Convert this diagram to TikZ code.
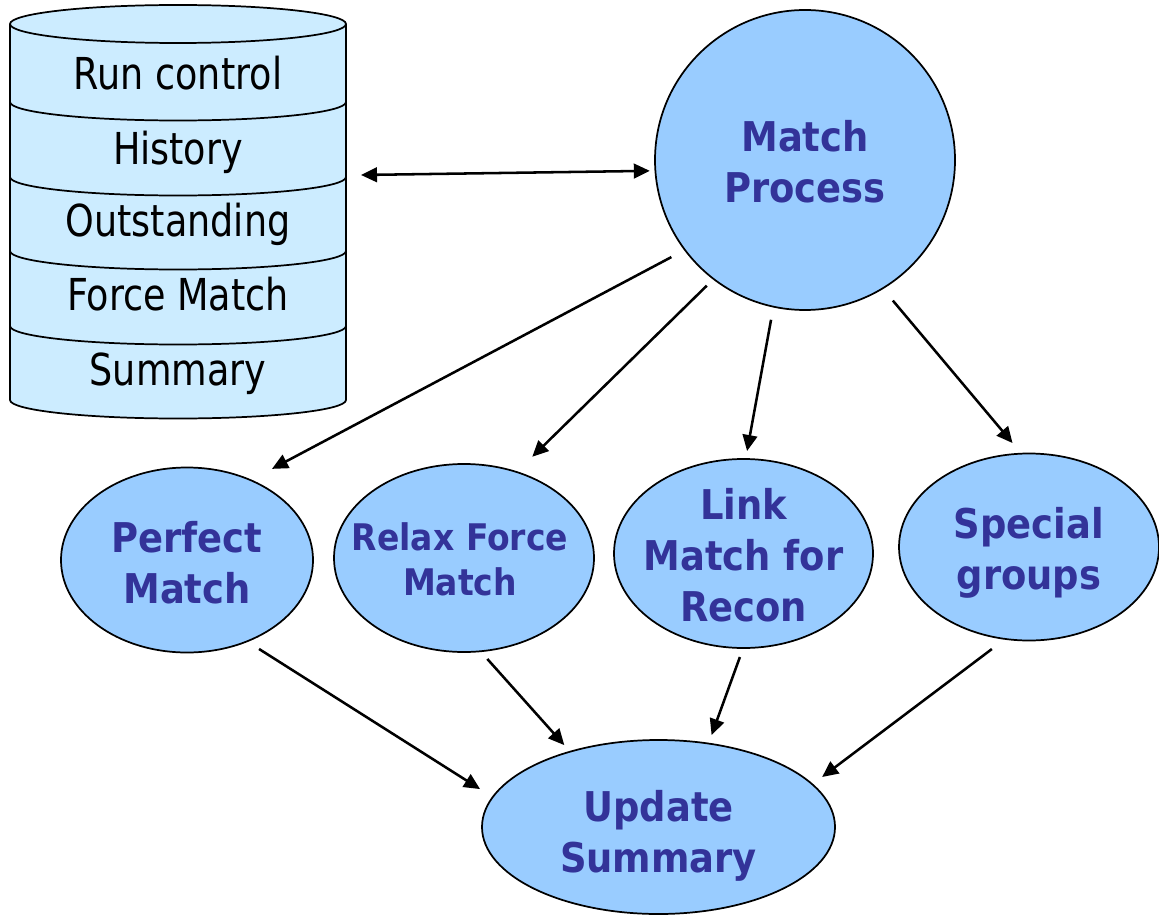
\documentclass[tikz,border=0pt]{standalone}
\usepackage{fontspec}
\setmainfont{DejaVu Sans}
\newfontfamily\cylfont[FakeStretch=0.83]{DejaVu Sans}
\newfontfamily\blobfont[FakeStretch=0.9]{DejaVu Sans Bold}
\usetikzlibrary{shapes.geometric,arrows.meta,calc}
\definecolor{cylfill}{HTML}{CCECFF}
\definecolor{blobfill}{HTML}{99CCFF}
\definecolor{blobtext}{HTML}{333399}
\begin{document}
\begin{tikzpicture}[x=0.75pt,y=-0.75pt,
  blob/.style={ellipse, draw=black, line width=1.3pt, fill=blobfill, inner sep=0pt, outer sep=0pt},
  blobtxt/.style={text=blobtext, align=center, inner sep=0pt, font=\blobfont\fontsize{30.75pt}{38.25pt}\selectfont},
  smalltxt/.style={text=blobtext, align=center, inner sep=0pt, font=\blobfont\fontsize{27.5pt}{33.75pt}\selectfont},
  cyltxt/.style={anchor=base, inner sep=0pt, font=\cylfont\fontsize{33pt}{40pt}\selectfont},
  cylline/.style={line width=1.3pt},
  arr/.style={line width=1.9pt, -{Triangle[length=12pt,width=11pt]}},
  dblarr/.style={line width=1.9pt, {Triangle[length=12pt,width=11pt]}-{Triangle[length=12pt,width=11pt]}},
]
\useasboundingbox (0,0) rectangle (1159,916);

% database cylinder
\fill[cylfill] (10,24) -- (10,400) arc[start angle=180,end angle=0,x radius=168,y radius=18.5]
  -- (346,24) arc[start angle=0,end angle=-180,x radius=168,y radius=19] -- cycle;
\draw[cylline] (10,24) -- (10,400) arc[start angle=180,end angle=0,x radius=168,y radius=18.5] -- (346,24);
\draw[cylline] (178,24) ellipse[x radius=168,y radius=19];
\foreach \yy in {102,177,251,326}
  \draw[cylline] (10,\yy) arc[start angle=180,end angle=0,x radius=168,y radius=18.5];
\node[cyltxt] (rc) at (178,90) {Run control};
\node[cyltxt] (hi) at (178,165) {History};
\node[cyltxt] (os) at (178,237) {Outstanding};
\node[cyltxt] (fm) at (178,310) {Force Match};
\node[cyltxt] (su) at (178,385) {Summary};
\coordinate (db) at (361,175);

% process shapes
\node[blob, circle, minimum size=225pt] (mp) at (805,160) {};
\node[blob, minimum width=189pt, minimum height=138.75pt] (perf) at (187,560) {};
\node[blob, minimum width=195pt, minimum height=141pt] (relax) at (464,558) {};
\node[blob, minimum width=194.25pt, minimum height=141.75pt] (link) at (743.5,553.5) {};
\node[blob, minimum width=195pt, minimum height=140.25pt] (spec) at (1029,547) {};
\node[blob, minimum width=264.75pt, minimum height=130.5pt] (upd) at (658.5,827) {};

\node[blobtxt] (mpT) at (805,161.5) {Match\\Process};
\node[blobtxt] (perfT) at (187,562.5) {Perfect\\Match};
\node[smalltxt] (relaxT) at (460,559.5) {Relax Force\\Match};
\node[blobtxt] (linkT) at (743.5,555) {Link\\Match for\\Recon};
\node[blobtxt] (specT) at (1029,553) {Special\\groups};
\node[blobtxt] (updT) at (658.5,835.5) {Update\\Summary};

% connectors
\draw[dblarr] (db) -- ($(mp.center)!1.037!(mp.184)$);
\draw[arr] ($(mp.center)!1.101!(mp.216)$) -- ($(perf.center)!1.194!(perf.47)$);
\draw[arr] ($(mp.center)!1.063!(mp.232)$) -- ($(relax.center)!1.198!(relax.56)$);
\draw[arr] ($(mp.center)!1.089!(mp.258)$) -- ($(link.center)!1.085!(link.88)$);
\draw[arr] ($(mp.center)!1.105!(mp.302)$) -- ($(spec.center)!1.119!(spec.99)$);
\draw[arr] ($(perf.center)!1.119!(perf.309)$) -- ($(upd.center)!1.101!(upd.168)$);
\draw[arr] ($(relax.center)!1.089!(relax.283)$) -- ($(upd.center)!1.082!(upd.139)$);
\draw[arr] ($(link.center)!1.096!(link.268)$) -- ($(upd.center)!1.099!(upd.60)$);
\draw[arr] ($(spec.center)!1.128!(spec.250)$) -- ($(upd.center)!1.091!(upd.17)$);
\end{tikzpicture}
\end{document}
